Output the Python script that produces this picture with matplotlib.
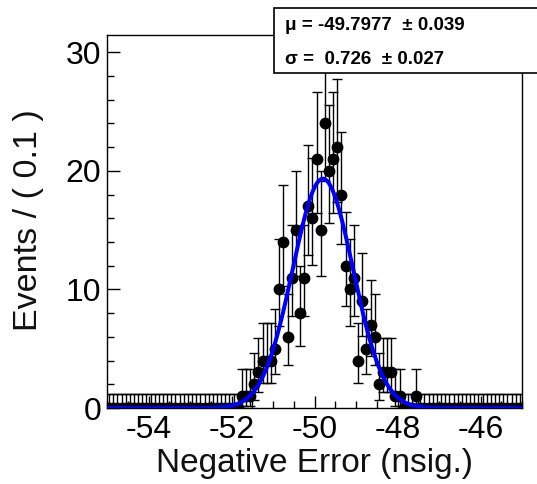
import math
import numpy as np
import matplotlib
matplotlib.use('Agg')
import matplotlib.pyplot as plt
from matplotlib.ticker import MultipleLocator
from matplotlib.patches import Rectangle

plt.rcParams['font.family'] = ['Liberation Sans', 'DejaVu Sans']
plt.rcParams['axes.unicode_minus'] = False

# histogram: 100 bins of 0.1 from -55 to -45, only the filled bins listed
x_lo, x_hi, bin_w = -55.0, -45.0, 0.1
filled_centres = [-51.75, -51.65, -51.55, -51.45, -51.35, -51.25, -51.15, -51.05,
                  -50.95, -50.85, -50.75, -50.65, -50.55, -50.45, -50.35, -50.25,
                  -50.15, -50.05, -49.95, -49.85, -49.75, -49.65, -49.55, -49.45,
                  -49.35, -49.25, -49.15, -49.05, -48.95, -48.85, -48.75, -48.65,
                  -48.55, -48.45, -48.35, -48.25, -48.15, -48.05, -47.95, -47.55]
filled_counts = [1, 1, 1, 2, 3, 4, 4, 4,
                 5, 10, 14, 6, 11, 15, 8, 11,
                 17, 16, 21, 15, 24, 20, 21, 22,
                 18, 12, 10, 11, 4, 9, 5, 7,
                 6, 2, 3, 3, 3, 1, 1, 1]

# fit result
mu, mu_err = -49.7977, 0.039
sigma, sigma_err = 0.726, 0.027

xlabel = 'Negative Error (nsig.)'
ylabel = 'Events / ( 0.1 )'


def pois_cdf(n, lam):
    return sum(math.exp(-lam) * lam**k / math.factorial(k) for k in range(n + 1))


def bisect(f, lo, hi):
    for _ in range(80):
        mid = 0.5 * (lo + hi)
        if f(mid) > 0:
            hi = mid
        else:
            lo = mid
    return 0.5 * (lo + hi)


def pois_interval(n):
    # RooFit style 68% interval
    if n == 0:
        return 0.0, -math.log(1 - 0.6827)
    a = 0.5 * (1 - 0.6827)
    lo = bisect(lambda l: (1 - pois_cdf(n - 1, l)) - a, 0, n + 1)
    hi = bisect(lambda u: a - pois_cdf(n, u), n, n + 10 * math.sqrt(n) + 10)
    return n - lo, hi - n


nbins = int(round((x_hi - x_lo) / bin_w))
centres = x_lo + bin_w * (np.arange(nbins) + 0.5)
counts = np.zeros(nbins, dtype=int)
for c, n in zip(filled_centres, filled_counts):
    counts[int(round((c - x_lo) / bin_w - 0.5))] = n

errs = np.array([pois_interval(int(n)) for n in counts])
err_lo, err_hi = errs[:, 0], errs[:, 1]

xx = np.linspace(x_lo, x_hi, 1000)
yy = counts.sum() * bin_w * np.exp(-0.5 * ((xx - mu) / sigma)**2) / (sigma * math.sqrt(2 * math.pi))

W, H = 537, 484
fig = plt.figure(figsize=(W / 100, H / 100), dpi=100)
ax = fig.add_axes([107 / W, 1 - 408 / H, (522 - 107) / W, (408 - 35) / H])

ax.errorbar(centres, counts, yerr=[err_lo, err_hi], fmt='o', color='black',
            ms=7.5, elinewidth=1, capsize=3.5, capthick=1, zorder=2)
ax.plot(xx, yy, color='#0000ff', lw=2.9, zorder=3)

ax.set_xlim(x_lo, x_hi)
ax.set_ylim(0, 1.05 * (counts + err_hi).max())

ax.xaxis.set_major_locator(MultipleLocator(2))
ax.xaxis.set_minor_locator(MultipleLocator(0.5))
ax.yaxis.set_major_locator(MultipleLocator(10))
ax.yaxis.set_minor_locator(MultipleLocator(2))
ax.tick_params(which='both', direction='in', top=False, right=False,
               labelsize=23, width=1)
ax.tick_params(which='major', length=9)
ax.tick_params(which='minor', length=4.8)
ax.tick_params(axis='y', pad=4)
ax.tick_params(axis='x', pad=5)
for s in ax.spines.values():
    s.set_linewidth(1)

ax.set_xlabel(xlabel, fontsize=24, color='#111111')
ax.xaxis.set_label_coords(0.5, -0.107)
ax.xaxis.label.set_va('top')
ax.set_ylabel(ylabel, fontsize=24.5, color='#111111')
ax.yaxis.set_label_coords(-0.189, 0.505)
ax.yaxis.label.set_va('center')

# stat box in the top right corner
fig.patches.append(Rectangle((274 / W, 1 - 72.7 / H), (545 - 274) / W, (72.7 - 8.3) / H,
                             transform=fig.transFigure, facecolor='white',
                             edgecolor='black', lw=1.2, zorder=5, clip_on=False))
fig.text(285 / W, 1 - 25 / H, '\u03bc = %.4f  \u00b1 %.3f' % (mu, mu_err),
         fontsize=13.5, fontweight='bold', va='center', ha='left', zorder=6)
fig.text(285 / W, 1 - 60 / H, '\u03c3 =  %.3f  \u00b1 %.3f' % (sigma, sigma_err),
         fontsize=13.5, fontweight='bold', va='center', ha='left', zorder=6)

fig.savefig('out.png', dpi=100)
